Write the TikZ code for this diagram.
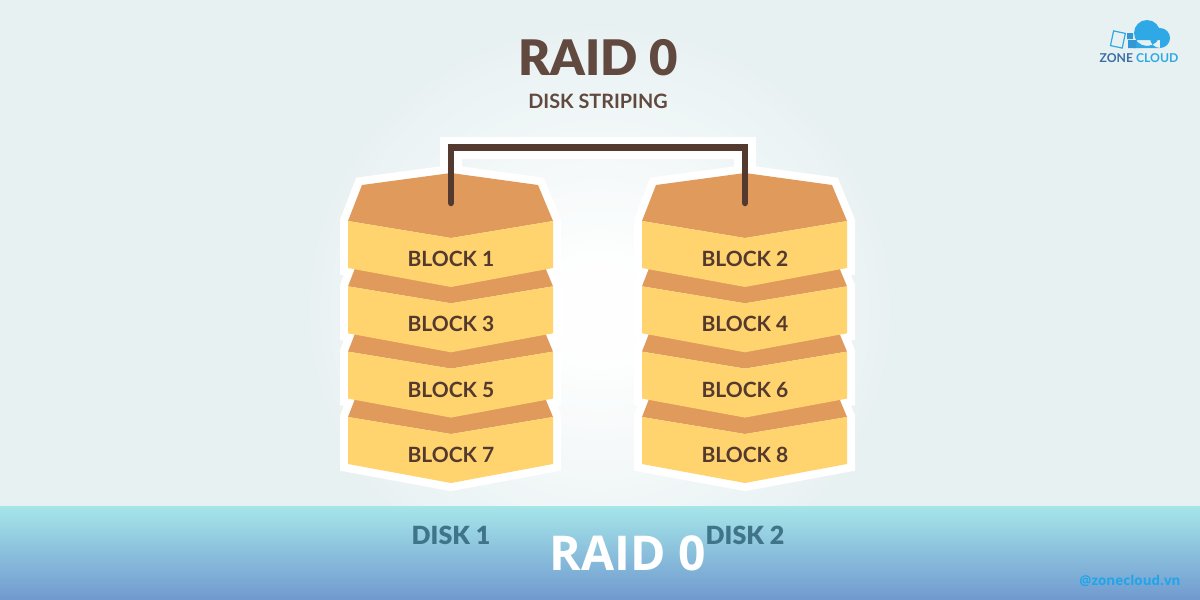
\documentclass[tikz,border=0pt]{standalone}
\usepackage{fontspec}
\setmainfont{Lato}
\newfontfamily\heavyfont{Lato Black}
\newfontfamily\capfont{Open Sans}
\definecolor{palebg}{HTML}{E8F1F2}
\definecolor{brownline}{HTML}{54392F}
\definecolor{orangetop}{HTML}{DF9A5C}
\definecolor{yellowblock}{HTML}{FFD36E}
\definecolor{diskblue}{HTML}{3F7489}
\definecolor{bandtop}{HTML}{A5E6E9}
\definecolor{bandbottom}{HTML}{7099CF}
\definecolor{cloudblue}{HTML}{2FA9E6}
\definecolor{handleblue}{HTML}{1FA6EA}
\definecolor{zoneblue}{HTML}{3B6EA5}
\tikzset{
  blocktext/.style={text=brownline,font=\fontsize{21}{21}\selectfont\bfseries},
  disktext/.style={text=diskblue,font=\heavyfont\fontsize{25}{25}\selectfont},
  halo/.style={draw=white,line width=16pt,line join=miter,fill=white},
}
\begin{document}
\begin{tikzpicture}[x=1pt,y=-1pt]
\useasboundingbox (0,0) rectangle (1200,600);

% Fond
  \fill[palebg] (0,0) rectangle (1200,600);
  \foreach \k in {1,...,24}
  \fill[white!\the\numexpr\k*4\relax!palebg] (600,310) ellipse ({300-\k*10} and {290-\k*10});
  \fill[top color=bandtop,bottom color=bandbottom] (0,506) rectangle (1200,600);

% Liaison
  \coordinate (linkA) at (451,203);
  \coordinate (cornerA) at (451,147.5);
  \coordinate (cornerB) at (745,147.5);
  \coordinate (linkB) at (745,203);
  \draw[white,line width=22pt,line join=miter] (linkA) -- (cornerA) -- (cornerB) -- (linkB);

% Contours blancs
  \foreach \xs in {0,294}
  \foreach \ys in {0,65.3,130.6,196} {
  \begin{scope}[xshift=\xs pt,yshift=-\ys pt]
    \draw[halo] (348,221) -- (362,185) -- (451,173) -- (538,185) -- (553,221)
      -- (553,268) -- (451,287) -- (348,268) -- cycle;
  \end{scope}
  }

% Blocs
  \foreach \xs in {0,294}
  \foreach \ys in {196,130.6,65.3,0} {
  \begin{scope}[xshift=\xs pt,yshift=-\ys pt]
    \fill[orangetop] (348,221) -- (362,185) -- (451,173) -- (538,185) -- (553,221) -- (451,238) -- cycle;
    \fill[yellowblock] (348,221) -- (451,238) -- (553,221) -- (553,268) -- (451,287) -- (348,268) -- cycle;
  \end{scope}
  }

  \draw[brownline,line width=6.5pt,line join=miter,line cap=round] (linkA) -- (cornerA) -- (cornerB) -- (linkB);

% Labels
  \foreach \num/\xb/\yb in {1/451/259,2/745/259,3/451/324,4/745/324,5/451/389.5,6/745/389.5,7/451/455,8/745/455}
  \node[blocktext] (block\num) at (\xb,\yb) {BLOCK \num};

  \node[text=brownline!92!white,font=\heavyfont\fontsize{49}{49}\selectfont] (title) at (598,58) {RAID 0};
  \node[text=brownline!92!white,font=\fontsize{19.8}{20}\selectfont\bfseries] (subtitle) at (598,101) {DISK STRIPING};
  \node[disktext] (disk1) at (451,535) {DISK 1};
  \node[disktext] (disk2) at (745,535) {DISK 2};
  \node[white,font=\capfont\fontsize{48}{48}\selectfont\bfseries] (caption) at (628,553) {RAID 0};
  \node[text=handleblue,font=\capfont\fontsize{13.5}{14}\selectfont\bfseries] (handle) at (1130,581) {@zonecloud.vn};

% Logo
  \fill[cloudblue] (1147,33) circle (13) (1160,38) circle (10) (1133,40) rectangle (1160,48);
  \draw[cloudblue,line width=1.2pt,rotate around={-12:(1118,39)}] (1112,32) rectangle (1124,47);
  \fill[cloudblue!70!zoneblue] (1127,33) rectangle (1133,39) (1128,40) rectangle (1136,48);
  \node[inner sep=0pt,font=\fontsize{12.2}{13}\selectfont\bfseries] (logo) at (1139,58)
    {\textcolor{zoneblue}{ZONE} \textcolor{cloudblue}{CLOUD}};

\end{tikzpicture}
\end{document}
